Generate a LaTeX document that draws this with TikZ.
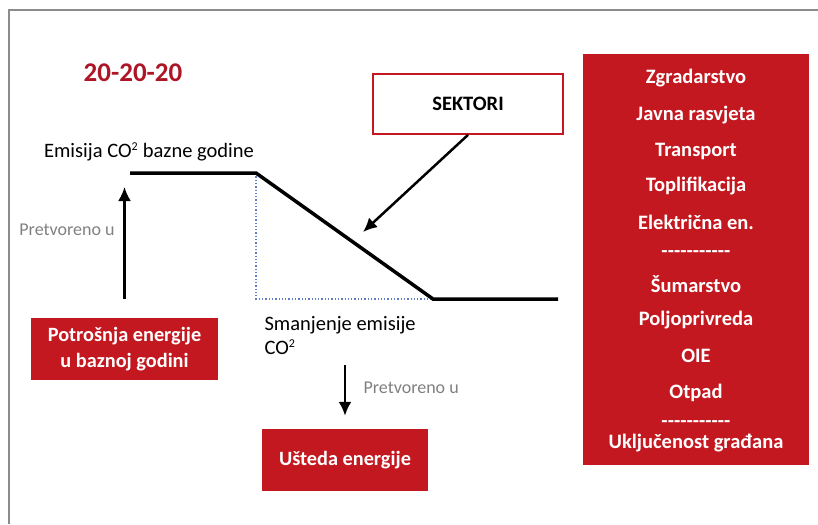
\documentclass[tikz,border=0pt]{standalone}
\usepackage{fontspec}
\setmainfont{Carlito}
\usetikzlibrary{arrows.meta}
\definecolor{boxred}{RGB}{196,24,32}
\definecolor{titlered}{RGB}{172,22,38}
\definecolor{dotblue}{RGB}{95,125,195}
\newcommand{\dashrow}{-{}-{}-{}-{}-{}-{}-{}-{}-{}-{}-}
\newcommand{\cotwo}{CO\textsuperscript{\fontsize{12}{12}\selectfont 2}}

\begin{document}
\begin{tikzpicture}[x=1pt, y=-1pt, every node/.style={font=\fontsize{20.5}{24}\selectfont}, >={Latex[length=14pt, width=13pt]},
	redbox/.style={fill=boxred, text=white, font=\bfseries\fontsize{20.3}{26}\selectfont, align=center, inner sep=0pt},
	item/.style={text=white, font=\bfseries\fontsize{20.5}{22}\selectfont},
	note/.style={text=black!50, font=\fontsize{18}{20}\selectfont},
	graph/.style={line width=3.5pt},
	pointer/.style={->, line width=2.5pt}]
	\useasboundingbox (0,0) rectangle (818,524);
	\draw[black!45, line width=1.5pt] (9,524) -- (9,10) -- (818,10);
	% title and base year
	\node[font=\bfseries\fontsize{27}{30}\selectfont, text=titlered] (title) at (133,73) {20-20-20};
	\node (emis) at (149,152) {Emisija \cotwo{} bazne godine};
	\coordinate (base0) at (130,173);
	\coordinate (base1) at (256,173);
	\coordinate (goal0) at (433,299);
	\coordinate (goal1) at (558,299);
	\draw[dotblue, dotted, line width=1.3pt] (base1) -- (base1 |- goal0) -- (goal0);
	\draw[graph] (base0) -- (base1) -- (goal0) -- (goal1);
	% left column
	\node[redbox, minimum width=187pt, minimum height=62pt] (potr) at (124.5,349) {Potrošnja energije\\u baznoj godini};
	\draw[pointer, shorten <=19pt, shorten >=14pt] (potr.north) -- (potr.north |- base0);
	\node[note] (conv1) at (67,230) {Pretvoreno u};
	% reduction
	\node[anchor=west, align=left] (smanj) at (261,336) {Smanjenje emisije\\\cotwo};
	\node[redbox, minimum width=166pt, minimum height=62pt] (usteda) at (345,460) {Ušteda energije};
	\coordinate (drop) at (345,365);
	\draw[pointer, shorten >=13pt] (drop) -- (usteda.north);
	\node[note, anchor=west] (conv2) at (360,388) {Pretvoreno u};
	% sectors
	\node[draw=boxred, line width=1.8pt, fill=white, minimum width=190pt, minimum height=60pt, font=\bfseries\fontsize{20.5}{24}\selectfont] (sektori) at (468,104) {SEKTORI};
	\coordinate (hit) at (363,232);
	\draw[pointer] (sektori.south) -- (hit);
	\node[fill=boxred, minimum width=226pt, minimum height=411pt] (list) at (696,259.5) {};
	\node[item] (s1) at (696,78) {Zgradarstvo};
	\node[item] (s2) at (696,115) {Javna rasvjeta};
	\node[item] (s3) at (696,151) {Transport};
	\node[item] (s4) at (696,186) {Toplifikacija};
	\node[item] (s5) at (696,222) {Električna en.};
	\node[item] (d1) at (696,254) {\dashrow};
	\node[item] (s6) at (696,284) {Šumarstvo};
	\node[item] (s7) at (696,320) {Poljoprivreda};
	\node[item] (s8) at (696,356) {OIE};
	\node[item] (s9) at (696,393) {Otpad};
	\node[item] (d2) at (696,424) {\dashrow};
	\node[item] (s10) at (696,443) {Uključenost građana};
\end{tikzpicture}
\end{document}
